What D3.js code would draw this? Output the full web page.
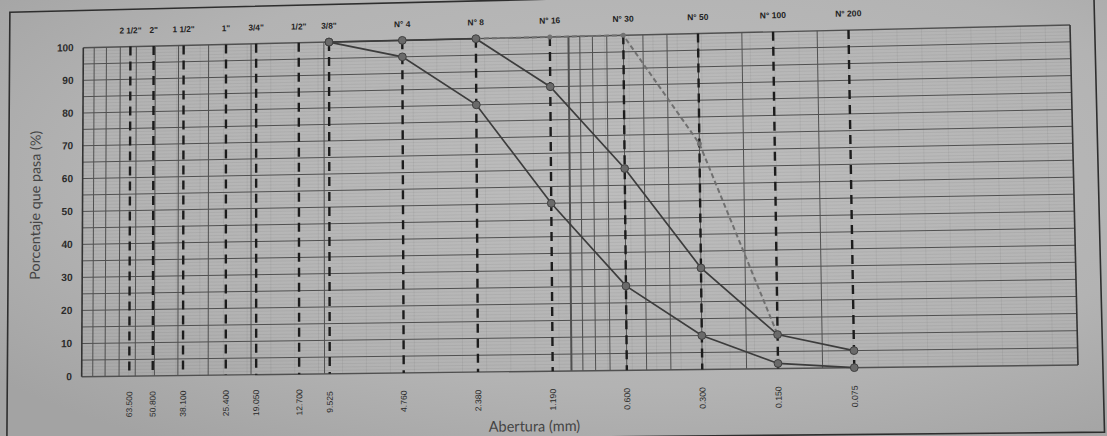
<!DOCTYPE html>
<html>
<head>
<meta charset="utf-8">
<script src="https://cdn.jsdelivr.net/npm/d3@7"></script>
<style>
  html, body { margin: 0; padding: 0; background: #b2b2b2; overflow: hidden; }
  svg { display: block; }
</style>
</head>
<body>
<svg id="chart" width="1107" height="436"></svg>
<script>
// Sieve series (ASTM) and their openings in mm
const sieveNames = ['2 1/2"', '2"', '1 1/2"', '1"', '3/4"', '1/2"', '3/8"',
                    'N° 4', 'N° 8', 'N° 16', 'N° 30', 'N° 50', 'N° 100', 'N° 200'];
const sieveOpenings = [63.5, 50.8, 38.1, 25.4, 19.05, 12.7, 9.525,
                       4.76, 2.38, 1.19, 0.6, 0.3, 0.15, 0.075];
const openingLabels = ['63.500', '50.800', '38.100', '25.400', '19.050', '12.700', '9.525',
                       '4.760', '2.380', '1.190', '0.600', '0.300', '0.150', '0.075'];
const percentTicks = [0, 10, 20, 30, 40, 50, 60, 70, 80, 90, 100];

// Gradation envelope (upper and lower limits) and the tested sample
const curveOpenings = [9.525, 4.76, 2.38, 1.19, 0.6, 0.3, 0.15, 0.075];
const upperLimit = [100, 100, 100, 85, 60, 30, 10, 5];
const lowerLimit = [100, 95, 80, 50, 25, 10, 1.5, 0];
const sampleOpenings = [2.38, 1.19, 0.6, 0.3, 0.15];
const samplePassing = [100, 100, 100, 67, 10];

// Printed log-paper rulings (mm)
const gridCoarse = [90, 80, 70, 60, 50, 40, 30, 20, 10];
const gridFine = [1, 0.9, 0.8, 0.7, 0.6, 0.5, 0.4, 0.3, 0.2, 0.1];

const W = 1107, H = 436;
const svg = d3.select('#chart');

// paper background with soft lighting falloff
const grad = svg.append('defs').append('radialGradient').attr('id', 'light')
  .attr('cx', '58%').attr('cy', '40%').attr('r', '75%');
grad.append('stop').attr('offset', '0%').attr('stop-color', '#bebebe');
grad.append('stop').attr('offset', '65%').attr('stop-color', '#b3b3b3');
grad.append('stop').attr('offset', '100%').attr('stop-color', '#a3a3a3');
svg.append('rect').attr('width', W).attr('height', H).attr('fill', 'url(#light)');

// Flat sheet coordinates
const x = d3.scaleLog().domain([100, 0.01]).range([82, 1077]);
const y = d3.scaleLinear().domain([0, 100]).range([372, 40]);
const [x0, x1] = x.range();

// The printed sheet is seen at a slight angle: a projective map takes the
// flat sheet onto the page.
function homography(src, dst) {
  const A = [], b = [];
  for (let i = 0; i < 4; i++) {
    const [sx, sy] = src[i], [dx, dy] = dst[i];
    A.push([sx, sy, 1, 0, 0, 0, -dx * sx, -dx * sy]); b.push(dx);
    A.push([0, 0, 0, sx, sy, 1, -dy * sx, -dy * sy]); b.push(dy);
  }
  const n = 8;
  for (let c = 0; c < n; c++) {
    let p = c;
    for (let r = c + 1; r < n; r++) if (Math.abs(A[r][c]) > Math.abs(A[p][c])) p = r;
    [A[c], A[p]] = [A[p], A[c]]; [b[c], b[p]] = [b[p], b[c]];
    for (let r = 0; r < n; r++) {
      if (r === c) continue;
      const f = A[r][c] / A[c][c];
      for (let k = c; k < n; k++) A[r][k] -= f * A[c][k];
      b[r] -= f * b[c];
    }
  }
  return b.map((v, i) => v / A[i][i]);
}
const flatCorners = [[x0, y(100)], [x1, y(100)], [x0, y(0)], [x1, y(0)]];
const pageCorners = [[83.3, 47.7], [1070, 25], [81.7, 376.7], [1078, 365]];
const hm = homography(flatCorners, pageCorners);

function proj(fx, fy) {
  const w = hm[6] * fx + hm[7] * fy + 1;
  return [(hm[0] * fx + hm[1] * fy + hm[2]) / w, (hm[3] * fx + hm[4] * fy + hm[5]) / w];
}
// local affine approximation, used to place text
function localMatrix(fx, fy) {
  const [px, py] = proj(fx, fy);
  const [ax, ay] = proj(fx + 1, fy);
  const [bx, by] = proj(fx, fy + 1);
  return `matrix(${ax - px},${ay - py},${bx - px},${by - py},${px},${py})`;
}
function segment(sel, fxA, fyA, fxB, fyB) {
  const a = proj(fxA, fyA), b = proj(fxB, fyB);
  return sel.attr('x1', a[0]).attr('y1', a[1]).attr('x2', b[0]).attr('y2', b[1]);
}

const g = svg.append('g');

// sheet border
const sheet = [[5, 2], [1101, 2], [1101, 437], [5, 437]].map(p => proj(p[0], p[1]));
g.append('polygon').attr('points', sheet.map(p => p.join(',')).join(' '))
  .attr('fill', 'none').attr('stroke', '#2e2e2e').attr('stroke-width', 1.6);

// faint graph-paper ruling
const faint = g.append('g').attr('stroke', '#000').attr('stroke-opacity', 0.08).attr('stroke-width', 0.7);
faint.selectAll('line.h').data(d3.range(1, 100).filter(v => v % 5 !== 0)).join('line')
  .each(function (d) { segment(d3.select(this), x0, y(d), x1, y(d)); });
faint.selectAll('line.v').data(d3.range(1, 41)).join('line')
  .each(function (d) {
    const fx = x0 + (x1 - x0) * d / 41;
    segment(d3.select(this), fx, y(100), fx, y(0));
  });

// main rulings
const grid = g.append('g').attr('stroke', '#505050').attr('stroke-width', 1);
grid.selectAll('line.h').data(d3.range(0, 101, 5)).join('line')
  .each(function (d) { segment(d3.select(this), x0, y(d), x1, y(d)); })
  .attr('stroke-width', d => (d === 0 || d === 100) ? 1.4 : 1);
grid.selectAll('line.vc').data(gridCoarse.concat(gridFine)).join('line')
  .each(function (d) { segment(d3.select(this), x(d), y(100), x(d), y(0)); })
  .attr('stroke-width', d => d === 1 ? 2 : 1);
grid.selectAll('line.edge').data(x.domain()).join('line')
  .each(function (d) { segment(d3.select(this), x(d), y(100), x(d), y(0)); })
  .attr('stroke', '#333').attr('stroke-width', 1.6);

// sieve verticals
g.append('g').selectAll('line').data(sieveOpenings).join('line')
  .each(function (d) { segment(d3.select(this), x(d), y(100), x(d), y(0)); })
  .attr('stroke', '#1c1c1c').attr('stroke-width', 2.4).attr('stroke-dasharray', '9,6');

// place axis ticks on the projected sheet
function placeTicks(axisG, fxOf, fyOf) {
  axisG.attr('transform', null);
  axisG.select('.domain').remove();
  axisG.selectAll('.tick').attr('transform', d => localMatrix(fxOf(d), fyOf(d)));
}

// y axis labels
const yAxis = g.append('g')
  .call(d3.axisLeft(y).tickValues(percentTicks).tickSize(0).tickPadding(0));
placeTicks(yAxis, () => x0 - 10, d => y(d));
yAxis.selectAll('text').attr('font-family', 'Arial, "Liberation Sans", sans-serif')
  .attr('font-size', 10.5).attr('font-weight', 'bold').attr('fill', '#2b2b2b');

// sieve names above the grid
const topAxis = g.append('g')
  .call(d3.axisTop(x).tickValues(sieveOpenings).tickSize(0).tickPadding(0)
    .tickFormat((d, i) => sieveNames[i]));
placeTicks(topAxis, d => x(d), () => 26.5);
topAxis.selectAll('text').attr('font-family', 'Arial, "Liberation Sans", sans-serif')
  .attr('font-size', 8.5).attr('font-weight', 'bold').attr('fill', '#222')
  .attr('y', 0).attr('dy', 0);

// opening sizes under the grid, vertical
const botAxis = g.append('g')
  .call(d3.axisBottom(x).tickValues(sieveOpenings).tickSize(0).tickPadding(0)
    .tickFormat((d, i) => openingLabels[i]));
placeTicks(botAxis, d => x(d), () => 400);
botAxis.selectAll('text').attr('font-family', 'Arial, "Liberation Sans", sans-serif')
  .attr('font-size', 8.5).attr('fill', '#2a2a2a')
  .attr('transform', 'rotate(-90)').attr('x', 0).attr('y', 3)
  .attr('dy', 0).attr('text-anchor', 'middle');

// axis titles
g.append('text').attr('transform', localMatrix(38, 199) + ' rotate(-90)')
  .attr('text-anchor', 'middle').attr('font-family', 'Lato, "Open Sans", sans-serif')
  .attr('font-size', 14.5).attr('fill', '#444').text('Porcentaje que pasa (%)');
g.append('text').attr('transform', localMatrix(542, 431))
  .attr('text-anchor', 'middle').attr('font-family', 'Lato, "Open Sans", sans-serif')
  .attr('font-size', 14.5).attr('fill', '#444').text('Abertura (mm)');

// curves
const pt = d => proj(x(d[0]), y(d[1]));
const line = d3.line().x(d => pt(d)[0]).y(d => pt(d)[1]);
const zip = (a, b) => a.map((v, i) => [v, b[i]]);

const sample = zip(sampleOpenings, samplePassing);
g.append('path').datum(sample).attr('d', line).attr('fill', 'none')
  .attr('stroke', '#707070').attr('stroke-width', 2).attr('stroke-dasharray', '5,3');
g.append('g').selectAll('circle').data(sample).join('circle')
  .attr('cx', d => pt(d)[0]).attr('cy', d => pt(d)[1]).attr('r', 2.5)
  .attr('fill', '#727272');

[upperLimit, lowerLimit].forEach(vals => {
  const pts = zip(curveOpenings, vals);
  g.append('path').datum(pts).attr('d', line).attr('fill', 'none')
    .attr('stroke', '#3c3c3c').attr('stroke-width', 1.7);
  g.append('g').selectAll('circle').data(pts).join('circle')
    .attr('cx', d => pt(d)[0]).attr('cy', d => pt(d)[1]).attr('r', 3.9)
    .attr('fill', '#6a6a6a').attr('stroke', '#404040').attr('stroke-width', 1);
});
</script>
</body>
</html>
